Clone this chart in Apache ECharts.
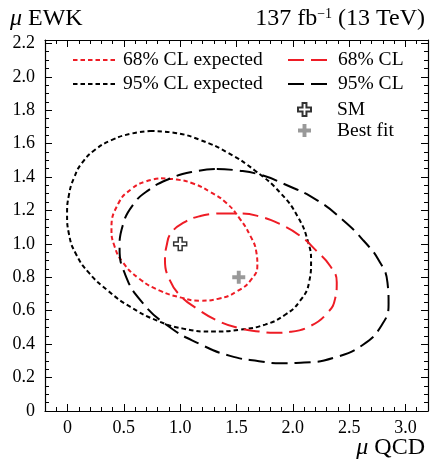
<!DOCTYPE html>
<html><head><meta charset="utf-8">
<script src="https://cdn.jsdelivr.net/npm/echarts@6/dist/echarts.min.js"></script>
<style>html,body{margin:0;padding:0;background:#fff}#c{width:430px;height:468px}</style>
</head><body><div id="c"></div>
<script>
// ---- data ----
const xMajorTicks = [0, 0.5, 1.0, 1.5, 2.0, 2.5, 3.0];
const yMajorTicks = [0, 0.2, 0.4, 0.6, 0.8, 1.0, 1.2, 1.4, 1.6, 1.8, 2.0, 2.2];
const seriesNames = ['68% CL expected', '95% CL expected', '68% CL', '95% CL', 'SM', 'Best fit'];

const exp68 = [[0.39,1.09],[0.45,1.24],[0.57,1.33],[0.70,1.375],[0.83,1.392],[0.97,1.385],[1.12,1.36],[1.27,1.31],[1.41,1.245],[1.53,1.15],[1.625,1.045],[1.675,0.955],[1.685,0.87],[1.635,0.79],[1.51,0.718],[1.34,0.672],[1.17,0.66],[1.00,0.68],[0.82,0.72],[0.64,0.79],[0.49,0.89],[0.415,0.99]];
const exp95 = [[-0.004,1.176],[0.013,1.295],[0.058,1.396],[0.129,1.485],[0.244,1.563],[0.395,1.622],[0.555,1.658],[0.733,1.676],[0.955,1.664],[1.177,1.622],[1.425,1.545],[1.665,1.438],[1.887,1.307],[2.047,1.159],[2.136,1.010],[2.162,0.897],[2.145,0.772],[2.065,0.660],[1.932,0.576],[1.754,0.517],[1.532,0.487],[1.292,0.475],[1.026,0.493],[0.795,0.541],[0.555,0.624],[0.360,0.719],[0.191,0.826],[0.075,0.939],[0.013,1.058]];
const obs68 = [[0.865,0.90],[0.88,0.99],[0.92,1.065],[1.03,1.127],[1.18,1.167],[1.35,1.182],[1.53,1.182],[1.71,1.163],[1.89,1.117],[2.065,1.048],[2.21,0.958],[2.33,0.869],[2.39,0.771],[2.375,0.671],[2.30,0.582],[2.16,0.510],[1.98,0.474],[1.84,0.468],[1.70,0.476],[1.52,0.496],[1.325,0.543],[1.15,0.612],[1.00,0.691],[0.91,0.780]];
const obs95 = [[0.462,0.975],[0.490,1.110],[0.584,1.236],[0.720,1.322],[0.900,1.388],[1.100,1.430],[1.325,1.448],[1.503,1.440],[1.710,1.414],[1.917,1.360],[2.213,1.262],[2.449,1.140],[2.627,1.020],[2.760,0.905],[2.840,0.770],[2.850,0.640],[2.790,0.515],[2.620,0.395],[2.361,0.318],[2.100,0.290],[1.900,0.286],[1.700,0.298],[1.443,0.330],[1.177,0.400],[0.890,0.510],[0.650,0.660],[0.510,0.820]];
const smPoint = [[1.0, 1.0]];
const bestFit = [[1.52, 0.80]];

// ---- styling ----
const FONT = 'Liberation Serif';
const RED = '#ee1c25';
const GRAY = '#808080';
const PLUS = 'path://M3.5,0H6.5V3.5H10V6.5H6.5V10H3.5V6.5H0V3.5H3.5Z';
// close a contour, starting the path at index k (a flat part) so the join is not visible
const closeFrom = (a, k) => a.slice(k).concat(a.slice(0, k + 1));
const fmt = v => (Math.abs(v) < 1e-9 ? '0' : v.toFixed(1));

const grid = { left: 45, top: 40, width: 383, height: 371 };
const X = { min: -0.2, max: 3.2 };
const Y = { min: 0, max: 2.22 };

function xMajor(pos, labels) {
  return { type: 'value', position: pos, min: X.min, max: X.max,
    axisLine: { show: true, onZero: false, lineStyle: { color: '#000', width: 1.2 } },
    axisTick: { show: true, inside: true, length: 7, customValues: xMajorTicks, lineStyle: { color: '#000', width: 1 } },
    axisLabel: { show: labels, customValues: xMajorTicks, formatter: fmt, margin: 8, fontFamily: FONT, fontSize: 18, color: '#000' },
    splitLine: { show: false } };
}
function xMinor(pos) {
  return { type: 'value', position: pos, min: X.min, max: X.max, interval: 0.1,
    axisLine: { show: false, onZero: false }, axisLabel: { show: false },
    axisTick: { show: true, inside: true, length: 4, lineStyle: { color: '#000', width: 1 } },
    splitLine: { show: false } };
}
function yMajor(pos, labels) {
  return { type: 'value', position: pos, min: Y.min, max: Y.max,
    axisLine: { show: true, onZero: false, lineStyle: { color: '#000', width: 1.2 } },
    axisTick: { show: true, inside: true, length: 7, customValues: yMajorTicks, lineStyle: { color: '#000', width: 1 } },
    axisLabel: { show: labels, customValues: yMajorTicks, formatter: fmt, margin: 10, fontFamily: FONT, fontSize: 18, color: '#000' },
    splitLine: { show: false } };
}
function yMinor(pos) {
  return { type: 'value', position: pos, min: Y.min, max: Y.max, interval: 0.05,
    axisLine: { show: false, onZero: false }, axisLabel: { show: false },
    axisTick: { show: true, inside: true, length: 4, lineStyle: { color: '#000', width: 1 } },
    splitLine: { show: false } };
}

const lineSeries = (name, data, color, dash) => ({
  name, type: 'line', data, smooth: 0.5, symbol: 'none', showSymbol: false,
  lineStyle: { color, width: 2, type: dash }, itemStyle: { color }, z: 3
});

const legendText = (lh, pad) => ({ fontFamily: FONT, fontSize: 19.5, color: '#000', lineHeight: lh, padding: [0, 0, 0, pad] });
const titleStyle = { fontFamily: FONT, fontSize: 24, fontWeight: 'normal', color: '#000',
  rich: { m: { fontFamily: FONT, fontSize: 24, fontStyle: 'italic', color: '#000', padding: [0, 6, 0, 0] },
          sup: { fontFamily: FONT, fontSize: 14, verticalAlign: 'top', lineHeight: 13, color: '#000' } } };

const option = {
  animation: false,
  backgroundColor: '#fff',
  title: [
    { text: '{m|μ}EWK', left: 5, top: 2, textStyle: titleStyle },
    { text: '137 fb{sup|−1} (13 TeV)', right: 0, top: 2, textStyle: titleStyle },
    { text: '{m|μ}QCD', right: 0, top: 431, textStyle: titleStyle }
  ],
  grid,
  legend: [
    { data: [seriesNames[0], seriesNames[1]], orient: 'vertical', left: 67, top: 43, itemWidth: 45, itemHeight: 14, itemGap: 0, selectedMode: false,
      itemStyle: { opacity: 0 }, textStyle: legendText(24, 0) },
    { data: [seriesNames[2], seriesNames[3]], orient: 'vertical', left: 282, top: 43, itemWidth: 45, itemHeight: 14, itemGap: 0, selectedMode: false,
      itemStyle: { opacity: 0 }, textStyle: legendText(24, 0) },
    { data: [{ name: seriesNames[4], icon: PLUS }, { name: seriesNames[5], icon: PLUS }], orient: 'vertical', left: 292, top: 94, itemWidth: 45, itemHeight: 13, itemGap: 0, selectedMode: false,
      textStyle: legendText(21, 5) }
  ],
  xAxis: [xMajor('bottom', true), xMajor('top', false), xMinor('bottom'), xMinor('top')],
  yAxis: [yMajor('left', true), yMajor('right', false), yMinor('left'), yMinor('right')],
  series: [
    lineSeries(seriesNames[0], closeFrom(exp68, 4), RED, [4.5, 3]),
    lineSeries(seriesNames[1], closeFrom(exp95, 7), '#000', [4.5, 3]),
    lineSeries(seriesNames[2], closeFrom(obs68, 5), RED, [16, 7]),
    lineSeries(seriesNames[3], closeFrom(obs95, 6), '#000', [16, 7]),
    { name: seriesNames[4], type: 'scatter', data: smPoint, symbol: PLUS, symbolSize: 13,
      itemStyle: { color: '#fff', borderColor: '#000', borderWidth: 1.5 }, z: 5 },
    { name: seriesNames[5], type: 'scatter', data: bestFit, symbol: PLUS, symbolSize: 13,
      itemStyle: { color: GRAY }, z: 5 }
  ]
};

const chart = echarts.init(document.getElementById('c'), null, { renderer: 'canvas' });
chart.setOption(option);
</script>
</body></html>
